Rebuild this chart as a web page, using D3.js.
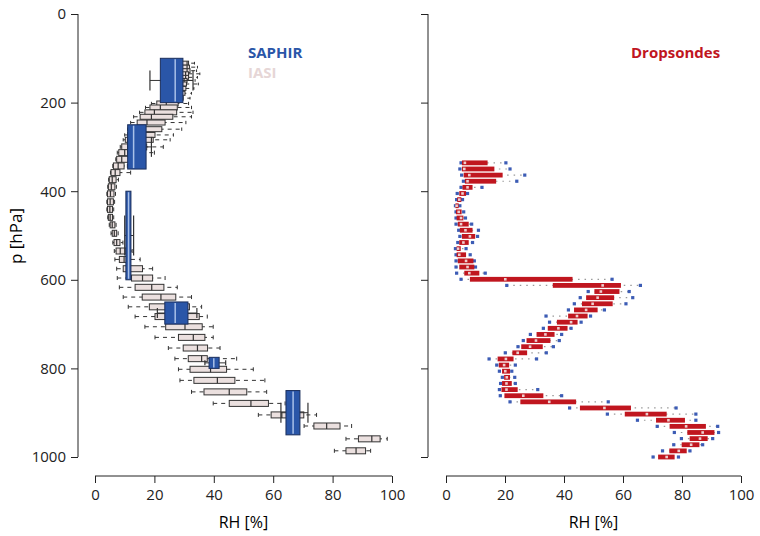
<!DOCTYPE html>
<html>
<head>
<meta charset="utf-8">
<script src="https://cdn.jsdelivr.net/npm/d3@7"></script>
<style>
body { margin: 0; background: #fff; }
text { font-family: "Open Sans", sans-serif; }
</style>
</head>
<body>
<svg id="chart" width="760" height="536"></svg>
<script>
// IASI boxes: pressure level, [low whisker, q1, median, q3, high whisker] RH %
var iasiP = [111,120,128,135,143,150,158,168,179,190,202,211,222,232,245,260,273,284,300,313,328,343,358,374,390,406,424,441,459,476,495,516,535,554,575,596,617,639,661,683,706,730,754,778,802,827,853,879,905,930,959,986];
var iasiStats = [
  [27,29,31,31.5,33.5],[27,29,31,31.8,34.5],[27,29,31,32,34.2],[26,28.5,30.5,31.5,35.3],
  [26,28.5,30.5,31.5,34.5],[26,28,30,31,33.7],[25,27.5,29.5,30.8,34.8],[25,27,29,30.6,33.3],
  [24,26.5,28.5,30.3,32.5],[23,26,28,29.7,32],[19,20.8,24,28,31.5],[17,18.5,22,27.7,32.5],
  [15,16.8,20,27.5,33],[13,15.2,19,26.2,32.5],[12,14.2,17.5,23.6,30.6],[11,12.9,16,22.5,29.2],
  [10,11,14,20.2,26.4],[9.5,10.2,13,19.6,25.3],[8.5,9,11.5,17.4,23],[7.5,8,10,15.5,20],
  [7,7.3,9,12.5,17],[6,6.2,7.8,9.8,10.9],[5.2,5.4,6.8,8.4,12],[4.6,4.8,5.8,7.1,7.9],
  [4.3,4.5,5.5,6.7,7.2],[4,4.2,5.2,6.4,6.9],[4,4.2,5.1,6.2,6.6],[4,4.2,5,5.9,6.3],
  [4.3,4.5,5.1,5.9,6.3],[4.8,5.1,5.8,6.7,7.1],[5.4,5.8,6.5,7.3,7.8],[6,6.4,7.3,8.4,9.4],
  [6.5,7.1,8.5,10.4,12.5],[6.7,8.2,9.8,11.8,15.2],[7.3,9.5,11.2,16,19.4],[7.5,12.3,16,19.4,23.6],
  [8.2,13.5,19.1,23.2,27.7],[9.5,15.9,22.2,27.2,32.5],[11.2,18.3,25,31.8,35.9],[13.5,20.2,27.5,35.1,37.8],
  [16.8,23.8,30.3,36.1,39.8],[20.2,28.1,33.1,37,39.8],[24.7,29.7,34.5,37.9,42.1],[26.9,31.4,35.9,37.8,47.7],
  [28.1,32,38.9,44.3,53.3],[28.6,33.3,41.2,47.1,57.2],[32.5,36.7,45.2,51.1,57.8],[39.8,45.2,52.5,58.4,64],
  [55,59.3,62.9,70.3,74.6],[70.4,73.7,78,82.5,86.4],[84.5,88.7,93.2,96,98.4],[80.6,84.5,87.9,91.1,92.8]
];
// SAPHIR layers: [p top, p bottom], [low, q1, median, q3, high]
var saphirLayers = [[100,200],[250,350],[400,600],[650,700],[775,800],[850,950]];
var saphirStats = [
  [18.5,22,27,29.6,33],[11,11,13,17.2,19],[10,10.4,11.3,12.1,13],
  [21,23.5,27,31.3,34.3],[37,38.4,40,41.8,44],[62.6,64.3,66.7,69,71.7]
];
// Dropsondes: 49 levels 336..1000 hPa, [low, q1, median, q3, high]
var dropP = d3.range(49).map(function(i) { return 336 + i * 664 / 48; });
var dropStats = [
  [5.1,5.4,6.4,14.1,20.3],[4.7,5.4,6.2,16.4,21.7],[5.3,6,7.9,19.2,26.7],[5.9,6.4,7.3,17,24],
  [5.1,5.6,7.3,9,12.2],[3.8,4.5,5.6,6.8,7.3],[3.6,3.8,4.5,5.2,5.6],[3.2,3.2,3.6,4.3,4.7],
  [3.4,3.4,4.3,5.3,6],[3.4,3.6,5.1,5.9,6.6],[3.4,4,5.1,7.7,8.7],[4.3,4.7,6.6,9,11],
  [4.7,5.4,8.1,9.9,10.7],[4,4.5,5.9,7.7,9],[3.2,3.6,4.1,5,6.8],[3.4,3.6,4.5,6.8,8.2],
  [3.4,4,6.8,9.3,9.6],[3.4,4.5,7.3,9.6,10],[3.6,6.2,7.9,11.3,13.3],[5.1,8.1,20.1,42.9,56.3],
  [20.6,36.2,53.1,59.3,65.9],[48.2,50.3,52.5,58.8,62.1],[45.5,47.5,51.4,57,63.3],[43.5,46.1,49.7,56.5,61],
  [41.5,43.4,47.5,51.4,53.7],[33.9,41.4,44.4,48,49],[35.1,37.6,42.4,44.6,45.8],[33,34.5,38.1,41.2,42.4],
  [28.6,30.7,33.7,36.8,39.2],[26.2,27.3,30.5,35.4,38.4],[24.4,25.5,28.5,32.8,36.4],[20.1,22.5,24.3,27.5,34],
  [14.6,17.5,20.3,22.9,30.7],[17.2,17.9,19.7,21.4,23.5],[18.1,19,20.1,21.7,22.3],[19.1,19.7,20.6,21.7,23.3],
  [18.5,19,20.5,22.3,23.5],[18.1,18.8,20.5,24.3,31.1],[18.4,19.8,26.2,33,39.2],[21.7,25.2,35,44.1,55],
  [41.9,45.4,53.7,62.7,78],[54.7,60.6,68.1,74.8,84.7],[64.9,71.2,75.4,81,84.7],[71.6,75.8,81.4,88.1,92.1],
  [77.4,81.8,87,91,92.4],[79.8,82.6,86.1,88.7,90.4],[77.2,79.9,83.1,85.9,87],[73.4,75.7,78.9,81.6,82.7],
  [70.2,71.9,74.8,77.5,78.8]
];
var xTicks = [0,20,40,60,80,100];
var pTicks = [0,200,400,600,800,1000];

var blue = "#2a56a8", red = "#c0161f", iasiFill = "#ebe0df";
var svg = d3.select("#chart");
var y = d3.scaleLinear().domain([0,1000]).range([14,457]);
var xL = d3.scaleLinear().domain([0,100]).range([95,392]);
var xR = d3.scaleLinear().domain([0,100]).range([446,741]);

function axes(x, yAxisX, labels) {
  var bx = svg.append("g").attr("transform", "translate(0,476)")
    .call(d3.axisBottom(x).tickValues(xTicks).tickSize(7).tickPadding(6));
  bx.select(".domain").attr("d", "M" + x(0) + ",0H" + x(100));
  var ly = svg.append("g").attr("transform", "translate(" + yAxisX + ",0)")
    .call(d3.axisLeft(y).tickValues(pTicks).tickSize(7).tickPadding(5)
      .tickFormat(labels ? d3.format("d") : ""));
  ly.select(".domain").attr("d", "M0," + y(0) + "V" + y(1000));
  svg.selectAll(".tick text").attr("font-size", 15).attr("fill", "#222");
  svg.selectAll(".domain, .tick line").attr("stroke", "#222");
  svg.append("text").attr("x", (x(0) + x(100)) / 2).attr("y", 528)
    .attr("text-anchor", "middle").attr("font-size", 16).text("RH [%]");
}
axes(xL, 78, true);
axes(xR, 428, false);
svg.append("text").attr("transform", "translate(22,236) rotate(-90)")
  .attr("text-anchor", "middle").attr("font-size", 17).text("p [hPa]");

// IASI boxes
var gI = svg.append("g");
iasiP.forEach(function(p, i) {
  var s = iasiStats[i], yc = y(p);
  var h = p < 200 ? 4 : (p < 300 ? 5 : 6);
  gI.append("line").attr("x1", xL(s[0])).attr("x2", xL(s[4])).attr("y1", yc).attr("y2", yc)
    .attr("stroke", "#333").attr("stroke-width", 1).attr("stroke-dasharray", "4,4");
  [s[0], s[4]].forEach(function(v) {
    gI.append("line").attr("x1", xL(v)).attr("x2", xL(v)).attr("y1", yc - h / 3).attr("y2", yc + h / 3)
      .attr("stroke", "#333");
  });
  gI.append("rect").attr("x", xL(s[1])).attr("y", yc - h / 2)
    .attr("width", xL(s[3]) - xL(s[1])).attr("height", h)
    .attr("fill", iasiFill).attr("stroke", "#333").attr("stroke-width", 1);
  gI.append("line").attr("x1", xL(s[2])).attr("x2", xL(s[2])).attr("y1", yc - h / 2).attr("y2", yc + h / 2)
    .attr("stroke", "#333").attr("stroke-width", 1.2);
});

// SAPHIR boxes
var gS = svg.append("g");
saphirLayers.forEach(function(l, i) {
  var s = saphirStats[i], y0 = y(l[0]), y1 = y(l[1]), yc = (y0 + y1) / 2, hh = (y1 - y0) / 2;
  gS.append("line").attr("x1", xL(s[0])).attr("x2", xL(s[4])).attr("y1", yc).attr("y2", yc)
    .attr("stroke", "#333");
  [s[0], s[4]].forEach(function(v) {
    gS.append("line").attr("x1", xL(v)).attr("x2", xL(v)).attr("y1", yc - hh * 0.45).attr("y2", yc + hh * 0.45)
      .attr("stroke", "#333").attr("stroke-width", 1.2);
  });
  gS.append("rect").attr("x", xL(s[1])).attr("y", y0)
    .attr("width", Math.max(2, xL(s[3]) - xL(s[1]))).attr("height", y1 - y0)
    .attr("fill", blue).attr("stroke", "#1b2f5c").attr("stroke-width", 1);
  gS.append("line").attr("x1", xL(s[2])).attr("x2", xL(s[2])).attr("y1", y0 + 1).attr("y2", y1 - 1)
    .attr("stroke", "#a9c1e8").attr("stroke-width", 1.5);
});

// Dropsondes
var gD = svg.append("g");
dropP.forEach(function(p, i) {
  var s = dropStats[i], yc = y(p);
  gD.append("line").attr("x1", xR(s[0])).attr("x2", xR(s[4])).attr("y1", yc).attr("y2", yc)
    .attr("stroke", "#999").attr("stroke-width", 1.2).attr("stroke-dasharray", "1.5,5");
  [s[0], s[4]].forEach(function(v) {
    gD.append("rect").attr("x", xR(v) - 1.6).attr("y", yc - 1.6).attr("width", 3.2).attr("height", 3.2)
      .attr("fill", "#3c5cb5");
  });
  gD.append("rect").attr("x", xR(s[1])).attr("y", yc - 2.4)
    .attr("width", xR(s[3]) - xR(s[1])).attr("height", 4.8).attr("fill", red);
  gD.append("rect").attr("x", xR(s[2]) - 1.3).attr("y", yc - 1.3).attr("width", 2.6).attr("height", 2.6)
    .attr("fill", "#eccfcf");
});

// legend
svg.append("text").attr("x", 248).attr("y", 58).attr("font-size", 15).attr("font-weight", "bold")
  .attr("fill", blue).text("SAPHIR");
svg.append("text").attr("x", 248).attr("y", 78).attr("font-size", 15).attr("font-weight", "bold")
  .attr("fill", "#e6d6d6").text("IASI");
svg.append("text").attr("x", 631).attr("y", 58).attr("font-size", 15).attr("font-weight", "bold")
  .attr("fill", red).text("Dropsondes");
</script>
</body>
</html>
